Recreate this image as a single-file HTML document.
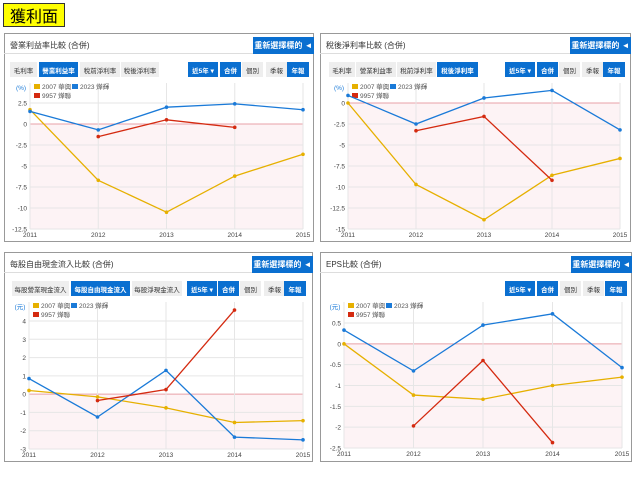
<!DOCTYPE html>
<html><head><meta charset="utf-8"><style>
body{margin:0;width:640px;height:480px;background:#fff;position:relative;overflow:hidden;font-family:"Liberation Sans","Noto Sans CJK TC",sans-serif}
.abs{position:absolute;box-sizing:border-box}
.panel{border:1px solid #999;background:#fff}
.btn{font-size:6.5px;display:flex;align-items:center;justify-content:center;color:#333;background:#eee}
.on{background:#0a6fd0;color:#fff;font-weight:bold}
.ttl{font-size:8px;color:#333}
.sel{background:#0a6fd0;color:#fff;font-size:8px;font-weight:bold;display:flex;align-items:center;justify-content:center}
svg text{font-family:"Liberation Sans","Noto Sans CJK TC",sans-serif}
</style></head><body>
<div class="abs" style="left:3px;top:3px;width:62px;height:24px;background:#ff0;border:1px solid #333;font-size:16px;display:flex;align-items:center;justify-content:center;">獲利面</div>
<div id="root"></div>
<svg id="svg" class="abs" width="640" height="480" style="left:0;top:0;pointer-events:none"></svg>
<script>
const years=["2011","2012","2013","2014","2015"];
const c1Yellow=[1.7,-6.7,-10.5,-6.2,-3.6];
const c1Blue=[1.5,-0.7,2.0,2.4,1.7];
const c1Red=[null,-1.5,0.5,-0.4,null];
const c1Ticks=[2.5,0,-2.5,-5,-7.5,-10,-12.5];
const c2Yellow=[0,-9.7,-13.9,-8.6,-6.6];
const c2Blue=[0.9,-2.5,0.6,1.5,-3.2];
const c2Red=[null,-3.3,-1.6,-9.2,null];
const c2Ticks=[0,-2.5,-5,-7.5,-10,-12.5,-15];
const c3Yellow=[0.2,-0.15,-0.75,-1.55,-1.45];
const c3Blue=[0.85,-1.25,1.3,-2.35,-2.5];
const c3Red=[null,-0.35,0.25,4.6,null];
const c3Ticks=[4,3,2,1,0,-1,-2,-3];
const c4Yellow=[0,-1.23,-1.33,-1,-0.8];
const c4Blue=[0.33,-0.65,0.45,0.72,-0.57];
const c4Red=[null,-1.97,-0.4,-2.37,null];
const c4Ticks=[0.5,0,-0.5,-1,-1.5,-2,-2.5];
const legendNames=["2007 華興","2023 燁輝","9957 燁聯"];
const colors=["#e6b000","#1a7ad8","#d42a10"];

const charts=[
 {px:4,py:33,pw:310,ph:209,title:"營業利益率比較 (合併)",tabs:[["毛利率",10,28],["營業利益率",39,40],["稅前淨利率",80,41],["稅後淨利率",121,39]],act:1,right:[188,220,242,266,287],x0:30,x1:303,vTop:2.5,yTop:103,vBot:-12.5,yBot:229,unit:"(%)",s:[c1Yellow,c1Blue,c1Red],ticks:c1Ticks,name:"operating-margin-chart"},
 {px:320,py:33,pw:311,ph:209,title:"稅後淨利率比較 (合併)",tabs:[["毛利率",329,27],["營業利益率",356,41],["稅前淨利率",397,40],["稅後淨利率",437,42]],act:3,right:[505,537,559,582,603],x0:348,x1:620,vTop:0,yTop:103,vBot:-15,yBot:229,unit:"(%)",s:[c2Yellow,c2Blue,c2Red],ticks:c2Ticks,name:"net-margin-chart"},
 {px:4,py:252,pw:309,ph:210,title:"每股自由現金流入比較 (合併)",tabs:[["每股營業現金流入",12,58],["每股自由現金流入",71,60],["每股淨現金流入",132,51]],act:1,right:[187,218,240,264,284],x0:29,x1:303,vTop:4,yTop:321,vBot:-3,yBot:449,unit:"(元)",s:[c3Yellow,c3Blue,c3Red],ticks:c3Ticks,name:"free-cashflow-chart"},
 {px:320,py:252,pw:312,ph:210,title:"EPS比較 (合併)",tabs:[],act:-1,right:[505,537,560,583,605],x0:344,x1:622,vTop:0.5,yTop:323,vBot:-2.5,yBot:448,unit:"(元)",s:[c4Yellow,c4Blue,c4Red],ticks:c4Ticks,name:"eps-chart"}
];
const root=document.getElementById('root');
const svg=document.getElementById('svg');
const NS="http://www.w3.org/2000/svg";
function div(cls,x,y,w,h,txt){const d=document.createElement('div');d.className='abs '+cls;d.style.left=x+'px';d.style.top=y+'px';if(w)d.style.width=w+'px';if(h)d.style.height=h+'px';if(txt)d.textContent=txt;root.appendChild(d);return d;}
function el(tag,attrs,txt){const e=document.createElementNS(NS,tag);for(const k in attrs)e.setAttribute(k,attrs[k]);if(txt!=null)e.textContent=txt;svg.appendChild(e);return e;}
charts.forEach((c,ci)=>{
 const p=div('panel',c.px,c.py,c.pw,c.ph);
 
 
 const t=div('ttl',c.px+6,c.py+7,null,null,c.title);
 
 
 div('',c.px,c.py+20,c.pw,1).style.background='#ddd';
 const b=div('sel',c.px+c.pw-61,c.py+4,61,17,"重新選擇標的 ◄");
 
 
 const ty=c.py+29;
 c.tabs.forEach((tb,i)=>{const d=div('btn'+(i===c.act?' on':''),tb[1],ty,tb[2]-1,15,tb[0]);
  
  });
 const rl=["近5年 ▾","合併","個別","季報","年報"],rw=[30,21,21,21,22],ron=[1,1,0,0,1];
 c.right.forEach((x,i)=>{const d=div('btn'+(ron[i]?' on':''),x,ty,rw[i],15,rl[i]);
  
  });
 const X=i=>c.x0+(c.x1-c.x0)*i/(years.length-1);
 const Y=v=>c.yTop+(v-c.vTop)*(c.yBot-c.yTop)/(c.vBot-c.vTop);
 const top=c.py+50, bot=c.yBot;
 el('rect',{x:c.x0,y:Y(0),width:c.x1-c.x0,height:bot-Y(0),fill:'#fdf3f5'});
 c.ticks.forEach(v=>{const y=Y(v);
  el('line',{x1:c.x0,x2:c.x1,y1:y,y2:y,stroke:v===0?'#e8a0a8':'#e6e6e6','stroke-width':1});
  const tx=el('text',{x:c.x0-3,y:y+2.5,'font-size':6.5,fill:'#444','text-anchor':'end'},v);
  
  });
 years.forEach((yr,i)=>{el('line',{x1:X(i),x2:X(i),y1:top,y2:bot,stroke:'#e6e6e6'});
  const tx=el('text',{x:X(i),y:bot+8,'font-size':6.5,fill:'#444','text-anchor':'middle'},yr);
  
  });
 const u=el('text',{x:c.x0-9,y:top+7,'font-size':6.5,fill:'#1a7ad8','text-anchor':'middle'},c.unit);
 
 
 const lx=c.x0+4, ly=top+6;
 const lp=[[lx,ly],[lx+38,ly],[lx,ly+9]];
 legendNames.forEach((n,i)=>{
  const r=el('rect',{x:lp[i][0],y:lp[i][1]-5,width:6,height:5,fill:colors[i]});
  
  
  const tx=el('text',{x:lp[i][0]+8,y:lp[i][1],'font-size':6.5,fill:'#555'},n);
  
  });
 c.s.forEach((arr,si)=>{
  let d='';arr.forEach((v,i)=>{if(v==null)return;d+=(d?'L':'M')+X(i)+','+Y(v);});
  const pl=el('path',{d:d,fill:'none',stroke:colors[si],'stroke-width':1.3});
  
  
  arr.forEach((v,i)=>{if(v==null)return;
   const pt=el('circle',{cx:X(i),cy:Y(v),r:1.8,fill:colors[si]});
   
   });
 });
});
</script>
</body></html>
